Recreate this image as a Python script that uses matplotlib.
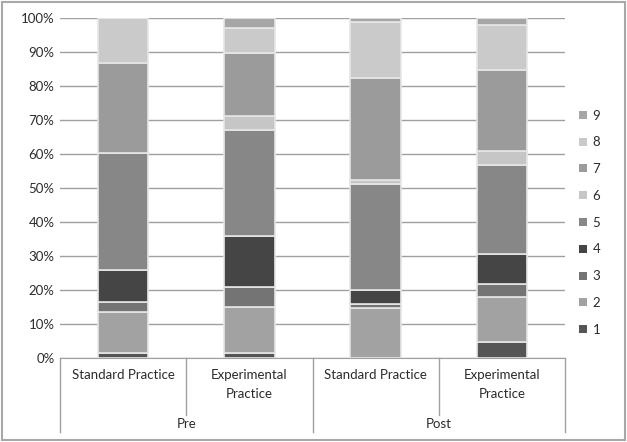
import numpy as np
import matplotlib.pyplot as plt
from matplotlib.patches import Patch, Rectangle

plt.rcParams['font.family'] = ['Lato', 'DejaVu Sans']

groups = ['Pre', 'Post']
practices = ['Standard Practice', 'Experimental\nPractice', 'Standard Practice', 'Experimental\nPractice']
levels = ['1', '2', '3', '4', '5', '6', '7', '8', '9']

# percent of responses per level (1..9) for each bar
s1 = [1.5, 1.5, 0.0, 4.7]
s2 = [12.1, 13.4, 14.7, 13.3]
s3 = [2.9, 6.0, 1.3, 3.9]
s4 = [9.3, 15.0, 3.9, 8.8]
s5 = [34.4, 31.3, 31.3, 26.1]
s6 = [0.0, 3.9, 1.2, 4.1]
s7 = [26.7, 18.5, 29.9, 23.9]
s8 = [13.1, 7.6, 16.4, 13.2]
s9 = [0.0, 2.8, 1.3, 2.0]
series = [s1, s2, s3, s4, s5, s6, s7, s8, s9]
colors = ['#555555', '#a2a2a2', '#747474', '#454545', '#878787',
          '#c6c6c6', '#9b9b9b', '#cacaca', '#a6a6a6']

fs = 9.5
txt = '#2b2b2b'

fig = plt.figure(figsize=(6.27, 4.42), dpi=100)
ax = fig.add_axes([60 / 627, 1 - 358 / 442, 505 / 627, 340 / 442])

x = np.arange(len(practices))
bottom = np.zeros(len(practices))
for vals, c in zip(series, colors):
    ax.bar(x, vals, 0.4, bottom=bottom, color=c, edgecolor='#e6e6e6', linewidth=1.2, zorder=3)
    bottom += np.array(vals)

ax.set_xlim(-0.5, 3.5)
ax.set_ylim(0, 100)
ax.set_yticks(np.arange(0, 101, 10))
ax.set_yticklabels([f'{v}%' for v in range(0, 101, 10)], fontsize=fs, color=txt)
ax.yaxis.grid(True, color='#a0a0a0', linewidth=1, zorder=0)
ax.tick_params(axis='y', length=0, pad=4)
ax.set_xticks([])
for s in ['top', 'right', 'left']:
    ax.spines[s].set_visible(False)
ax.spines['bottom'].set_color('#a0a0a0')

trans = ax.get_xaxis_transform()
# separators for the two-level category axis
for xv in [-0.5, 1.5, 3.5]:
    ax.plot([xv, xv], [0, -0.218], transform=trans, color='#a0a0a0', lw=1, clip_on=False)
for xv in [0.5, 2.5]:
    ax.plot([xv, xv], [0, -0.168], transform=trans, color='#a0a0a0', lw=1, clip_on=False)

for xi, lab in zip(x, practices):
    ax.text(xi, -0.032, lab, transform=trans, ha='center', va='top', fontsize=fs,
            color=txt, linespacing=1.75)
for gi, g in enumerate(groups):
    ax.text(gi * 2 + 0.5, -0.195, g, transform=trans, ha='center', va='center',
            fontsize=fs, color=txt)

handles = [Patch(facecolor=c, edgecolor='none') for c in colors]
leg = ax.legend(handles[::-1], levels[::-1], loc='center left', bbox_to_anchor=(1.005, 0.398),
                frameon=False, fontsize=fs, handlelength=0.55, handleheight=0.55,
                labelspacing=1.12, handletextpad=0.45)
for t in leg.get_texts():
    t.set_color(txt)

fig.patches.append(Rectangle((0.003, 0.004), 0.994, 0.992, transform=fig.transFigure,
                             fill=False, edgecolor='#a8a8a8', linewidth=1.5))

fig.savefig('out.png', dpi=100)
